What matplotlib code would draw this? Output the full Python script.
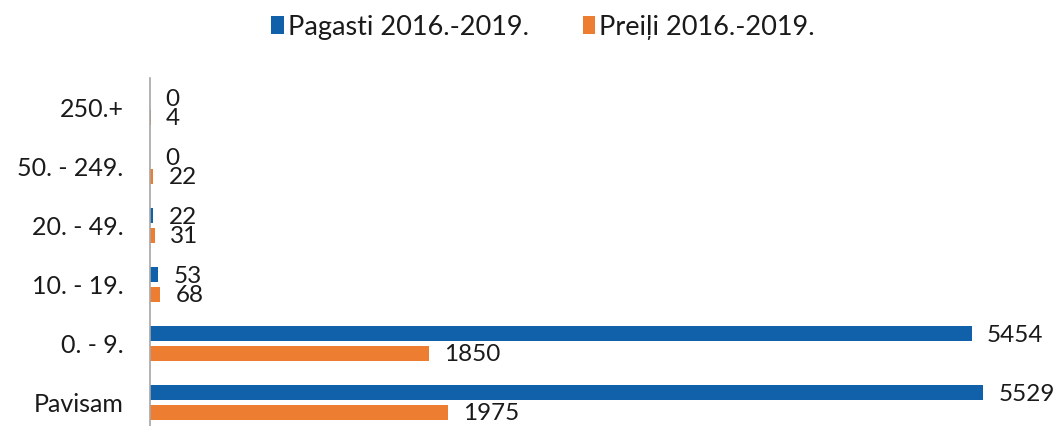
import matplotlib.pyplot as plt
import numpy as np

# Data (top to bottom as shown)
categories = ["250.+", "50. - 249.", "20. - 49.", "10. - 19.", "0. - 9.", "Pavisam"]
pagasti = [0, 0, 22, 53, 5454, 5529]
preili = [4, 22, 31, 68, 1850, 1975]
series_names = ["Pagasti 2016.-2019.", "Preiļi 2016.-2019."]

blue = "#1061AA"
orange = "#ED7D31"

plt.rcParams['font.family'] = ['Lato', 'DejaVu Sans']

fig = plt.figure(figsize=(10.6, 4.26), dpi=100)
ax = fig.add_axes([150 / 1060, -6 / 426, 904 / 1060, 354 / 426])

y = np.arange(len(categories))
h = 0.26
off = 0.165
b1 = ax.barh(y - off, pagasti, height=h, color=blue, label=series_names[0])
b2 = ax.barh(y + off, preili, height=h, color=orange, label=series_names[1])

for bars, vals in ((b1, pagasti), (b2, preili)):
    for bar, v in zip(bars, vals):
        ax.annotate(str(v), (bar.get_width(), bar.get_y() + bar.get_height() / 2),
                    xytext=(11, -1), textcoords="offset points",
                    ha="left", va="center", fontsize=17.5, color="#1a1a1a")

ax.set_xlim(0, 6000)
ax.set_ylim(len(categories) - 0.5, -0.5)
ax.set_yticks(y)
ax.set_yticklabels(categories, fontsize=18, color="#1a1a1a")
ax.tick_params(axis="y", length=0, pad=19)
ax.set_xticks([])
for s in ["top", "right", "bottom"]:
    ax.spines[s].set_visible(False)
ax.spines["left"].set_color("#A6A6A6")
ax.spines["left"].set_linewidth(1.2)

fig.legend(handles=[b1, b2], labels=series_names, loc="center",
           bbox_to_anchor=(543 / 1060, 1 - 27 / 426), ncol=2, frameon=False,
           fontsize=19.5, handlelength=0.45, handleheight=0.65, handletextpad=0.15,
           columnspacing=2.0, labelcolor="#1a1a1a")

fig.savefig("out.png", dpi=100)
